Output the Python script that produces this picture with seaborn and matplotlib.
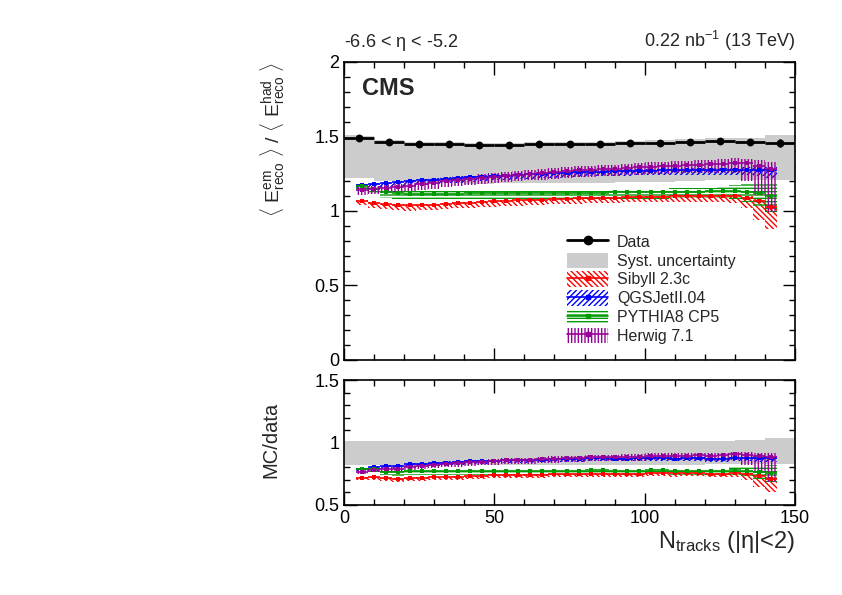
import numpy as np
import pandas as pd
import matplotlib
matplotlib.use("Agg")
import matplotlib.pyplot as plt
from matplotlib.patches import Patch
from matplotlib.lines import Line2D
from matplotlib.ticker import MultipleLocator
import seaborn as sns

# data: bins of width 10 in N_tracks
data_x = [5, 15, 25, 35, 45, 55, 65, 75, 85, 95, 105, 115, 125, 135, 145]
data_y = [1.49, 1.465, 1.45, 1.447, 1.443, 1.445, 1.45, 1.45, 1.447, 1.456, 1.453, 1.46, 1.47, 1.462, 1.455]
data_err = [0.004, 0.004, 0.004, 0.004, 0.004, 0.004, 0.004, 0.004, 0.005, 0.005, 0.006, 0.007, 0.009, 0.012, 0.025]
syst_up = [1.01, 1.01, 1.01, 1.01, 1.01, 1.01, 1.01, 1.01, 1.01, 1.01, 1.015, 1.015, 1.015, 1.02, 1.04]
syst_dn = [0.82, 0.82, 0.82, 0.82, 0.82, 0.82, 0.82, 0.82, 0.82, 0.82, 0.82, 0.822, 0.824, 0.826, 0.83]

# MC: bins of width 4
mc_x = [6, 10, 14, 18, 22, 26, 30, 34, 38, 42, 46, 50, 54, 58, 62, 66, 70, 74,
        78, 82, 86, 90, 94, 98, 102, 106, 110, 114, 118, 122, 126, 130, 134, 138, 142]

sibyll = [1.07, 1.055, 1.045, 1.04, 1.038, 1.04, 1.043, 1.047, 1.052, 1.056, 1.06, 1.064, 1.068, 1.071, 1.074,
          1.077, 1.08, 1.082, 1.084, 1.086, 1.088, 1.09, 1.092, 1.094, 1.096, 1.097, 1.098, 1.099, 1.1, 1.1,
          1.1, 1.1, 1.09, 1.07, 1.03]
sibyll_up = [0.005, 0.005, 0.005, 0.005, 0.005, 0.005, 0.005, 0.005, 0.005, 0.005, 0.005, 0.005, 0.005, 0.005,
             0.005, 0.005, 0.005, 0.005, 0.005, 0.005, 0.005, 0.005, 0.005, 0.005, 0.005, 0.005, 0.006, 0.006,
             0.006, 0.007, 0.008, 0.01, 0.012, 0.015, 0.02]
sibyll_dn = [0.03, 0.032, 0.034, 0.035, 0.035, 0.035, 0.035, 0.035, 0.035, 0.035, 0.035, 0.035, 0.035, 0.035,
             0.035, 0.035, 0.035, 0.035, 0.035, 0.035, 0.035, 0.035, 0.035, 0.035, 0.035, 0.035, 0.036, 0.036,
             0.037, 0.038, 0.04, 0.045, 0.07, 0.13, 0.15]

qgsjet = [1.172, 1.178, 1.185, 1.192, 1.198, 1.205, 1.21, 1.215, 1.22, 1.225, 1.23, 1.235, 1.238, 1.242, 1.246,
          1.25, 1.253, 1.256, 1.259, 1.262, 1.264, 1.266, 1.268, 1.27, 1.271, 1.272, 1.273, 1.274, 1.275, 1.276,
          1.277, 1.277, 1.278, 1.278, 1.278]
qgsjet_up = [0.012, 0.012, 0.012, 0.012, 0.012, 0.012, 0.012, 0.012, 0.012, 0.012, 0.012, 0.012, 0.012, 0.012,
             0.012, 0.012, 0.012, 0.012, 0.012, 0.012, 0.012, 0.012, 0.012, 0.012, 0.012, 0.012, 0.012, 0.012,
             0.012, 0.012, 0.013, 0.014, 0.015, 0.017, 0.02]
qgsjet_dn = [0.02, 0.022, 0.025, 0.028, 0.03, 0.03, 0.03, 0.03, 0.03, 0.03, 0.03, 0.03, 0.03, 0.03,
             0.03, 0.03, 0.03, 0.03, 0.03, 0.03, 0.03, 0.03, 0.03, 0.03, 0.03, 0.03, 0.03, 0.03,
             0.031, 0.032, 0.033, 0.035, 0.038, 0.045, 0.055]

pythia = [1.17, 1.15, 1.125, 1.118, 1.116, 1.116, 1.116, 1.117, 1.117, 1.118, 1.118, 1.119, 1.119, 1.12, 1.12,
          1.121, 1.121, 1.122, 1.122, 1.123, 1.124, 1.125, 1.126, 1.127, 1.128, 1.128, 1.129, 1.13, 1.13, 1.131,
          1.132, 1.135, 1.13, 1.12, 1.1]
pythia_up = [0.01, 0.015, 0.018, 0.02, 0.02, 0.02, 0.02, 0.02, 0.02, 0.02, 0.02, 0.02, 0.02, 0.02,
             0.02, 0.02, 0.02, 0.02, 0.02, 0.02, 0.02, 0.02, 0.02, 0.02, 0.02, 0.02, 0.022, 0.022,
             0.024, 0.026, 0.03, 0.04, 0.055, 0.07, 0.09]
pythia_dn = [0.02, 0.03, 0.04, 0.045, 0.045, 0.045, 0.045, 0.045, 0.045, 0.045, 0.045, 0.045, 0.045, 0.045,
             0.045, 0.045, 0.045, 0.045, 0.045, 0.045, 0.045, 0.045, 0.045, 0.045, 0.045, 0.045, 0.045, 0.045,
             0.045, 0.046, 0.048, 0.055, 0.07, 0.09, 0.11]

herwig = [1.14, 1.145, 1.152, 1.16, 1.168, 1.178, 1.188, 1.198, 1.207, 1.215, 1.222, 1.23, 1.237, 1.244, 1.25,
          1.256, 1.262, 1.267, 1.272, 1.276, 1.28, 1.284, 1.288, 1.292, 1.296, 1.3, 1.303, 1.306, 1.31, 1.313,
          1.318, 1.322, 1.32, 1.305, 1.285]
herwig_up = [0.02, 0.02, 0.02, 0.02, 0.02, 0.02, 0.021, 0.022, 0.022, 0.023, 0.023, 0.024, 0.024, 0.025, 0.025,
             0.025, 0.026, 0.026, 0.027, 0.027, 0.028, 0.028, 0.029, 0.029, 0.03, 0.03, 0.03, 0.031, 0.031, 0.032,
             0.032, 0.033, 0.03, 0.035, 0.045]
herwig_dn = [0.03, 0.03, 0.032, 0.034, 0.036, 0.038, 0.04, 0.04, 0.041, 0.042, 0.042, 0.043, 0.043, 0.044, 0.044,
             0.045, 0.045, 0.046, 0.046, 0.047, 0.047, 0.048, 0.048, 0.049, 0.05, 0.05, 0.051, 0.052, 0.053, 0.055,
             0.06, 0.07, 0.12, 0.2, 0.29]

models = [
    ("Sibyll 2.3c", sibyll, sibyll_up, sibyll_dn, "#ff0000", "\\" * 6),
    ("QGSJetII.04", qgsjet, qgsjet_up, qgsjet_dn, "#0000ff", "/" * 6),
    ("PYTHIA8 CP5", pythia, pythia_up, pythia_dn, "#009900", "-" * 5),
    ("Herwig 7.1", herwig, herwig_up, herwig_dn, "#990099", "|" * 5),
]

sns.set_theme(style="ticks")
plt.rcParams["font.family"] = ["Liberation Sans", "DejaVu Sans"]
plt.rcParams["mathtext.fontset"] = "custom"
plt.rcParams["mathtext.rm"] = "Liberation Sans"
plt.rcParams["mathtext.it"] = "Liberation Sans"
plt.rcParams["hatch.linewidth"] = 1.0

fig = plt.figure(figsize=(8.42, 5.95), dpi=100)
ax = fig.add_axes([0.4086, 0.395, 0.5356, 0.5008])
axr = fig.add_axes([0.4086, 0.1513, 0.5356, 0.2100])

dx = np.array(data_x, float)
dy = np.array(data_y)
dbin = np.clip((np.array(mc_x) // 10).astype(int), 0, len(data_x) - 1)

# systematic band
ax.bar(dx, dy * (np.array(syst_up) - np.array(syst_dn)), bottom=dy * np.array(syst_dn),
       width=10, color="#cccccc", linewidth=0, zorder=1)
axr.bar(dx, np.array(syst_up) - np.array(syst_dn), bottom=syst_dn,
        width=10, color="#cccccc", linewidth=0, zorder=1)

handles, labels = [], []
for name, vals, up, dn, col, hatch in models:
    v = np.array(vals)
    eu = np.array(up)
    ed = np.array(dn)
    norm = dy[dbin]
    df = pd.DataFrame({"x": mc_x, "y": v, "r": v / norm})
    for a, scale in ((ax, 1.0), (axr, norm)):
        a.bar(mc_x, (eu + ed) / scale, bottom=(v - ed) / scale, width=4, fill=False, hatch=hatch,
              edgecolor=col, linewidth=0, zorder=2)
        a.errorbar(mc_x, v / scale, xerr=2, fmt="none", ecolor=col, elinewidth=1.2, zorder=3)
    sns.scatterplot(data=df, x="x", y="y", ax=ax, marker="s", s=7, color=col,
                    edgecolor=col, linewidth=0, zorder=4, legend=False)
    sns.scatterplot(data=df, x="x", y="r", ax=axr, marker="s", s=7, color=col,
                    edgecolor=col, linewidth=0, zorder=4, legend=False)
    handles.append((Patch(facecolor="none", edgecolor=col, hatch=hatch, linewidth=0),
                    Line2D([], [], color=col, marker="s", markersize=3, lw=1.2)))
    labels.append(name)

# data
ax.errorbar(dx, dy, xerr=5, yerr=data_err, fmt="none", ecolor="black", elinewidth=2, zorder=5)
sns.scatterplot(x=data_x, y=data_y, ax=ax, color="black", s=32, linewidth=0, zorder=6)

h_data = Line2D([], [], color="black", marker="o", markersize=6, lw=2)
h_syst = Patch(facecolor="#cccccc", edgecolor="none")
ax.legend([h_data, h_syst] + handles, ["Data", "Syst. uncertainty"] + labels,
          loc="upper left", bbox_to_anchor=(0.48, 0.445), frameon=False, fontsize=11.5,
          handlelength=2.6, handleheight=1.1, handletextpad=0.55, labelspacing=0.17, borderaxespad=0)

for a in (ax, axr):
    a.set_xlim(0, 150)
    a.xaxis.set_major_locator(MultipleLocator(50))
    a.xaxis.set_minor_locator(MultipleLocator(10))
    a.yaxis.set_minor_locator(MultipleLocator(0.1))
    a.tick_params(which="both", direction="in", top=True, right=True, colors="black", labelsize=13)
    a.tick_params(which="major", length=9, width=1)
    a.tick_params(which="minor", length=4.5, width=1)
    for s in a.spines.values():
        s.set_linewidth(1.2)
        s.set_color("black")

ax.set_ylim(0, 2)
ax.set_yticks([0, 0.5, 1, 1.5, 2], ["0", "0.5", "1", "1.5", "2"])
ax.tick_params(labelbottom=False)
ax.set_xlabel("")
ax.set_ylabel(r"$\langle$ E$^{\mathrm{em}}_{\mathrm{reco}}$ $\rangle$ / $\langle$ E$^{\mathrm{had}}_{\mathrm{reco}}$ $\rangle$",
              fontsize=14, loc="top")
ax.yaxis.set_label_coords(-0.127, 1.0)

axr.set_ylim(0.5, 1.5)
axr.set_yticks([0.5, 1, 1.5], ["0.5", "1", "1.5"])
axr.set_xticks([0, 50, 100, 150], ["0", "50", "100", "150"])
axr.set_ylabel("MC/data", fontsize=14.5)
axr.yaxis.set_label_coords(-0.142, 0.52)
axr.set_xlabel(r"N$_{\mathrm{tracks}}$ (|$\eta$|<2)", fontsize=17, loc="right")
axr.xaxis.set_label_coords(1.0, -0.19)
axr.xaxis.label.set_verticalalignment("top")

ax.text(0.0, 1.03, r"-6.6 < $\eta$ < -5.2", transform=ax.transAxes, fontsize=13, ha="left", va="bottom")
ax.text(1.0, 1.03, r"0.22 nb$^{-1}$ (13 TeV)", transform=ax.transAxes, fontsize=13, ha="right", va="bottom")
ax.text(0.04, 0.95, "CMS", transform=ax.transAxes, fontsize=17, fontweight="bold", ha="left", va="top")

fig.savefig("out.png", dpi=100)
